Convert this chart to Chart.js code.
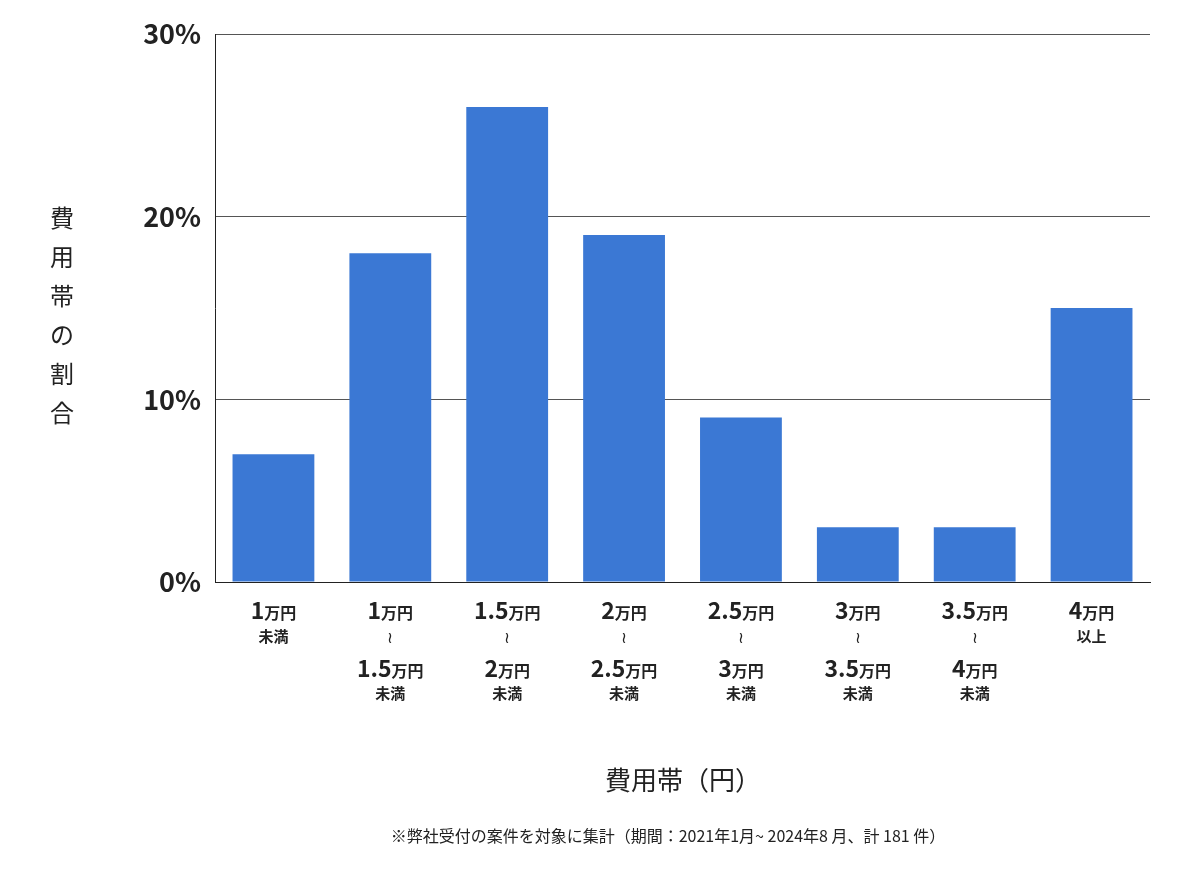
<!DOCTYPE html>
<html><head><meta charset="utf-8">
<script src="https://cdn.jsdelivr.net/npm/chart.js@4"></script>
<style>body{margin:0;background:#fff}#w{width:1200px;height:874px}</style>
</head><body><div id="w"><canvas id="c"></canvas></div>
<script>
const categories=["1万円未満","1万円〜1.5万円未満","1.5万円〜2万円未満","2万円〜2.5万円未満","2.5万円〜3万円未満","3万円〜3.5万円未満","3.5万円〜4万円未満","4万円以上"];
const values=[7,18,26,19,9,3,3,15];
const tickLabels=[0,10,20,30];
// label parts: [number, unit] lines
const labelParts=[
 [["1","万円"],["未満"]],
 [["1","万円"],["≀"],["1.5","万円"],["未満"]],
 [["1.5","万円"],["≀"],["2","万円"],["未満"]],
 [["2","万円"],["≀"],["2.5","万円"],["未満"]],
 [["2.5","万円"],["≀"],["3","万円"],["未満"]],
 [["3","万円"],["≀"],["3.5","万円"],["未満"]],
 [["3.5","万円"],["≀"],["4","万円"],["未満"]],
 [["4","万円"],["以上"]]
];
const F="'Noto Sans CJK JP','Noto Sans',sans-serif";
const deco={id:'deco',afterDraw(ch){
 const c=ch.ctx,x=ch.scales.x,a=ch.chartArea;
 c.save();c.fillStyle='#222';c.textBaseline='middle';
 labelParts.forEach((lines,i)=>{
  const cx=x.getPixelForTick(i);
  const ys=lines.length===2?[610,636]:[610,637,668,693];
  lines.forEach((p,j)=>{
   const y=ys[j];
   if(p.length===2){
    c.font="bold 23px "+F;const w1=c.measureText(p[0]).width;
    c.font="bold 16px "+F;const w2=c.measureText(p[1]).width;
    let sx=cx-(w1+w2)/2;c.textAlign='left';
    c.font="bold 23px "+F;c.fillText(p[0],sx,y);
    c.font="bold 16px "+F;c.fillText(p[1],sx+w1,y+3);
   }else{
    c.textAlign='center';c.font="bold 15px "+F;
    if(p[0]==='≀'){c.font="16px "+F;}
    c.fillText(p[0],cx,y);
   }
  });
 });
 c.textAlign='center';c.font="24px "+F;
 [..."費用帯の割合"].forEach((ch2,i)=>c.fillText(ch2,62,218+i*39));
 c.font="26px "+F;c.fillText("費用帯（円）",683,780);
 c.font="16px "+F;c.fillText("※弊社受付の案件を対象に集計（期間：2021年1月~ 2024年8 月、計 181 件）",668,836);
 c.restore();
}};
new Chart(document.getElementById('c'),{type:'bar',
 data:{labels:categories,datasets:[{data:values,backgroundColor:'#3b78d4',barPercentage:0.7,categoryPercentage:1}]},
 options:{responsive:true,maintainAspectRatio:false,animation:false,
  layout:{padding:{top:34,right:50,left:0,bottom:0}},
  plugins:{legend:{display:false},tooltip:{enabled:false}},
  scales:{
   x:{grid:{display:false},border:{color:'#222'},ticks:{display:false},afterFit(s){s.height=292;}},
   y:{min:0,max:30,afterBuildTicks(s){s.ticks=tickLabels.map(v=>({value:v}));},
    afterFit(s){s.width=215;},
    grid:{color:'#555',drawTicks:false},border:{color:'#222'},
    ticks:{padding:14,color:'#222',font:{family:F,size:27,weight:'bold'},callback:v=>v+'%'}}
  }},
 plugins:[deco]});
</script></body></html>
